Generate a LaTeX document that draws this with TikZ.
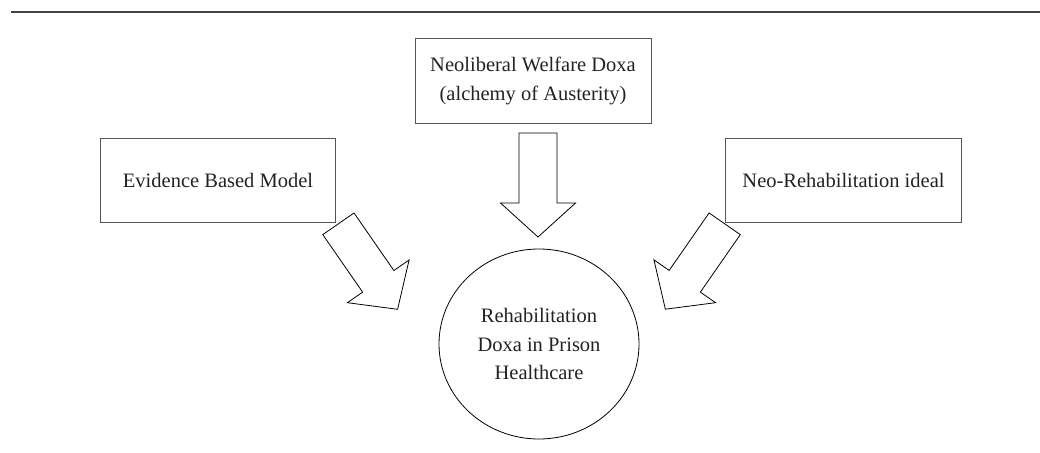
\documentclass[tikz,border=0pt]{standalone}
\usepackage{fontspec}
\setmainfont{Liberation Serif}
\usetikzlibrary{shapes.geometric}
\definecolor{boxgray}{HTML}{555555}
\definecolor{rulegray}{HTML}{444444}
\definecolor{txt}{HTML}{222222}
\tikzset{
  box/.style={draw=boxgray, line width=1pt, rectangle, align=center, inner sep=0pt,
    text=txt, font=\fontsize{20.5}{29}\selectfont},
  bubble/.style={draw=black, line width=0.8pt, ellipse, align=center, inner sep=0pt,
    text=txt, font=\fontsize{20.5}{28.5}\selectfont},
  arrowline/.style={draw=black, line width=0.8pt, line join=miter},
  blockarrow/.pic={\draw[arrowline] (0,-19) -- (70,-19) -- (70,-37.5) -- (104,0)
    -- (70,37.5) -- (70,19) -- (0,19) -- cycle;}
}
\begin{document}
\begin{tikzpicture}[x=1pt,y=-1pt]
\useasboundingbox (0,0) rectangle (1040,452);
\coordinate (rl) at (11,12);
\coordinate (rr) at (1040,12);
\draw[rulegray, line width=1.3pt] (rl) -- (rr);

\node[box, minimum width=236, minimum height=84] (top) at (533,81)
  {Neoliberal Welfare Doxa\\(alchemy of Austerity)};
\node[box, minimum width=235, minimum height=84] (left) at (218,180)
  {Evidence Based Model};
\node[box, minimum width=236, minimum height=84] (right) at (843.5,180)
  {Neo-Rehabilitation ideal};
\node[bubble, minimum width=200, minimum height=190] (core) at (539,344)
  {Rehabilitation\\Doxa in Prison\\Healthcare};

\coordinate (atop) at (538,133);
\coordinate (aleft) at (338.4,223.8);
\coordinate (aright) at (724.7,223.8);
\pic[rotate=-90] at (atop) {blockarrow};
\pic[rotate=-55.3] at (aleft) {blockarrow};
\pic[rotate=-124.8] at (aright) {blockarrow};
\end{tikzpicture}
\end{document}
